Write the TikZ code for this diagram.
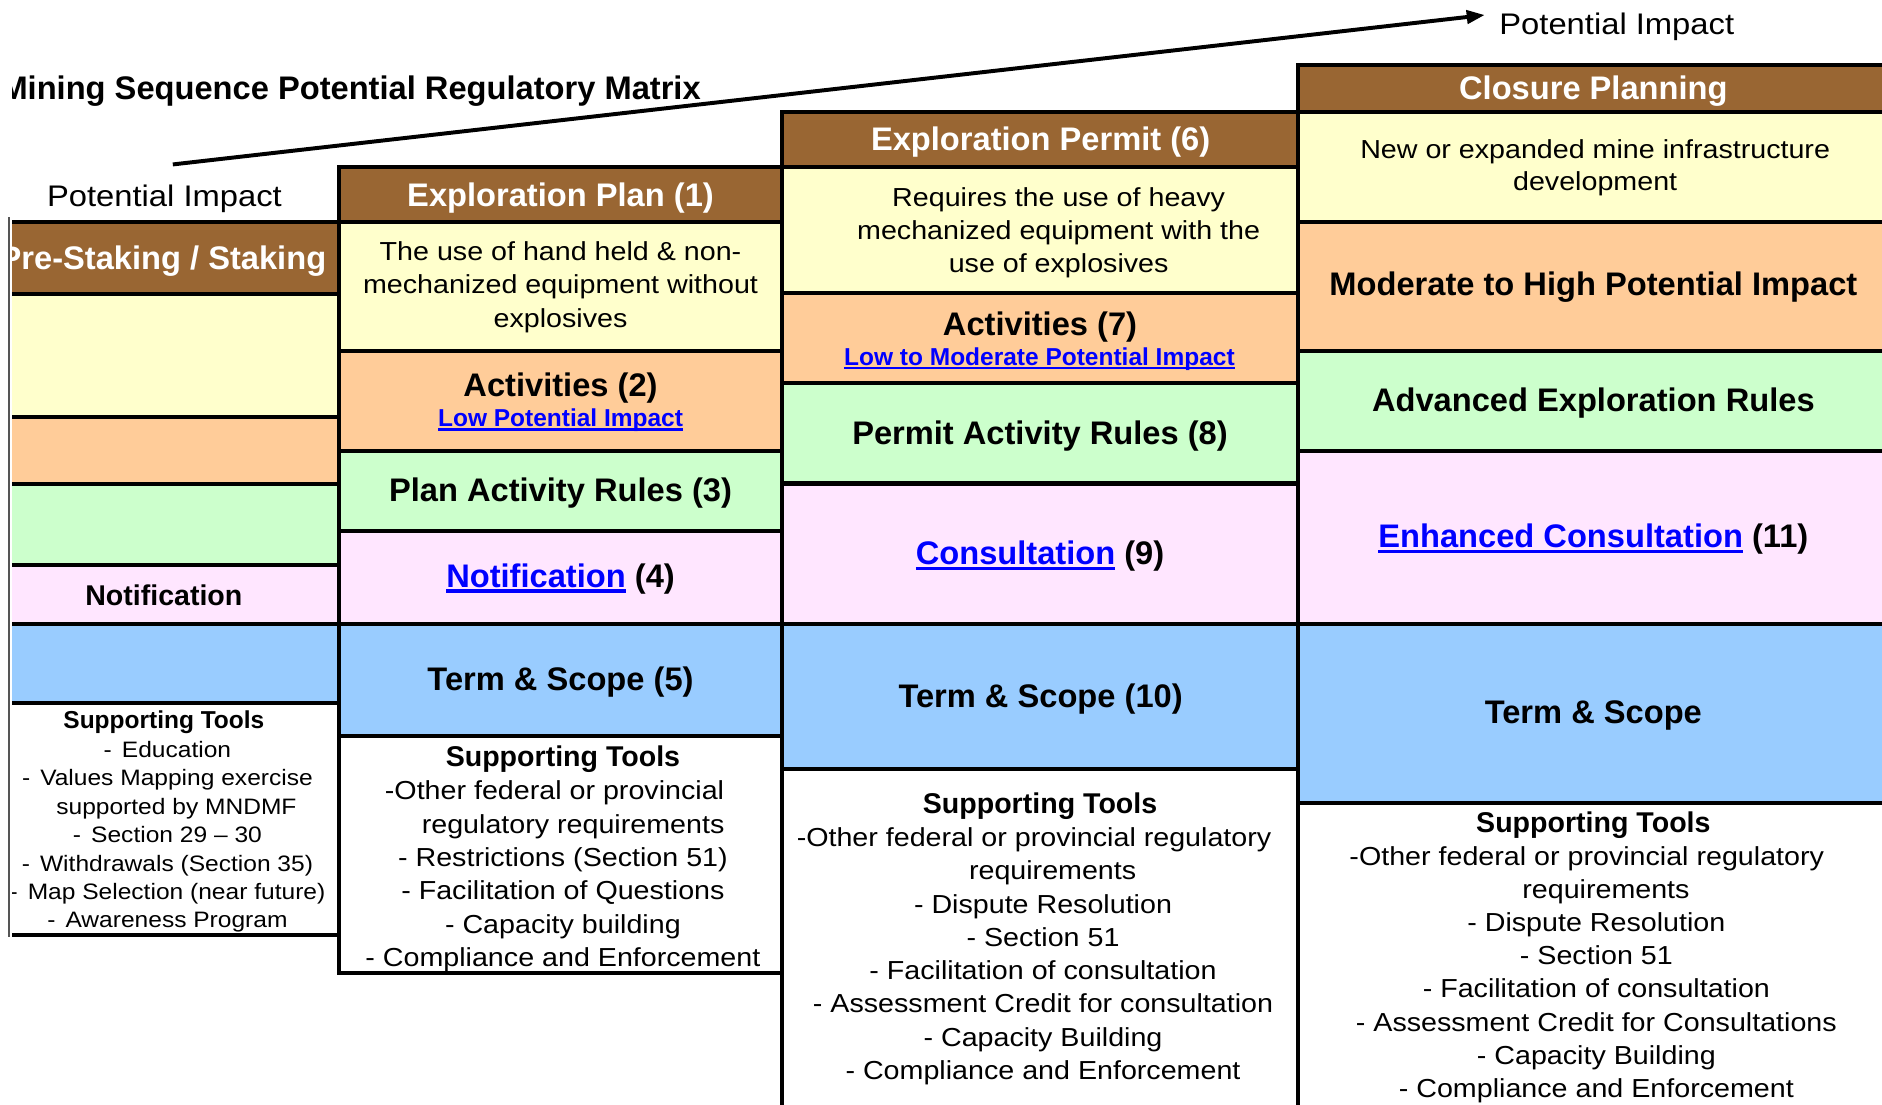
\documentclass[tikz,border=0pt]{standalone}
\usepackage{fontspec}
\setmainfont{Liberation Sans}
\newfontfamily\widef{Liberation Sans}[FakeStretch=1.1]
\usetikzlibrary{arrows.meta}
\definecolor{hdrbrown}{HTML}{996633}
\definecolor{cyellow}{HTML}{FFFFCC}
\definecolor{corange}{HTML}{FFCC99}
\definecolor{cgreen}{HTML}{CCFFCC}
\definecolor{cpink}{HTML}{FFE6FF}
\definecolor{cblue}{HTML}{99CCFF}
\definecolor{linkblue}{HTML}{0000FF}
\definecolor{thingray}{HTML}{555555}
\newsavebox\lnkbox
\newcommand\lnktxt[1]{\sbox\lnkbox{#1}\rlap{\rule[-0.17em]{\wd\lnkbox}{0.11em}}\usebox\lnkbox}
\newcommand\dgap{-\hspace{0.45em}}
\newcommand\trail[1]{\hspace*{#1}\mbox{}}
\newcommand\mkcell[6]{\node[cell, fill=#6, minimum width={(#4)-(#2)}, minimum height={(#5)-(#3)}] (#1) at ({((#2)+(#4))/2},{((#3)+(#5))/2}) {};}
\tikzset{
  cell/.style={draw=black, line width=3.5pt, rectangle, inner sep=0pt, outer sep=0pt},
  hdrtxt/.style={font=\fontsize{27.2}{32}\selectfont\bfseries, text=white, inner sep=0pt, anchor=base},
  lbltxt/.style={font=\fontsize{27.2}{32}\selectfont\bfseries, text=black, inner sep=0pt, anchor=base},
  lnksmall/.style={font=\fontsize{20.4}{24}\selectfont\bfseries, text=linkblue, inner sep=0pt, anchor=base},
  bodytxt/.style={font=\widef\fontsize{21.7}{28}\selectfont, align=center, inner sep=0pt, anchor=north},
  toolstxt/.style={font=\widef\fontsize{21.7}{27.7}\selectfont, align=center, inner sep=0pt, anchor=north},
  toolsone/.style={font=\widef\fontsize{18.6}{23.7}\selectfont, align=center, inner sep=0pt, anchor=north},
  imptxt/.style={font=\widef\fontsize{24.8}{30}\selectfont, inner sep=0pt, anchor=base},
  arrowline/.style={line width=3.3pt, -{Triangle[length=15pt,width=11pt]}},
  thinline/.style={draw=thingray, line width=1.5pt},
}
\begin{document}
\begin{tikzpicture}[x=1pt,y=-1pt]
\useasboundingbox (0,0) rectangle (1568,920);
\draw[thinline] (7.5,181) -- (7.5,781);
\begin{scope}
\clip (10,0) rectangle (1568,920);
% column 1
\mkcell{c1h}{-20}{185}{282.5}{245}{hdrbrown}
\mkcell{c1y}{-20}{245}{282.5}{347.5}{cyellow}
\mkcell{c1o}{-20}{347.5}{282.5}{403.3}{corange}
\mkcell{c1g}{-20}{403.3}{282.5}{470.8}{cgreen}
\mkcell{c1p}{-20}{470.8}{282.5}{520}{cpink}
\mkcell{c1b}{-20}{520}{282.5}{585.8}{cblue}
\mkcell{c1t}{-20}{585.8}{282.5}{779}{white}
% column 2
\mkcell{c2h}{282.5}{139.3}{651.5}{185}{hdrbrown}
\mkcell{c2y}{282.5}{185}{651.5}{292.5}{cyellow}
\mkcell{c2o}{282.5}{292.5}{651.5}{376}{corange}
\mkcell{c2g}{282.5}{376}{651.5}{442.5}{cgreen}
\mkcell{c2p}{282.5}{442.5}{651.5}{520}{cpink}
\mkcell{c2b}{282.5}{520}{651.5}{613.3}{cblue}
\mkcell{c2t}{282.5}{613.3}{651.5}{810.8}{white}
% column 3
\mkcell{c3h}{651.5}{93.6}{1081.2}{139.3}{hdrbrown}
\mkcell{c3y}{651.5}{139.3}{1081.2}{244.4}{cyellow}
\mkcell{c3o}{651.5}{244.4}{1081.2}{319.4}{corange}
\mkcell{c3g}{651.5}{319.4}{1081.2}{402.8}{cgreen}
\mkcell{c3p}{651.5}{402.8}{1081.2}{520}{cpink}
\mkcell{c3b}{651.5}{520}{1081.2}{640.8}{cblue}
\mkcell{c3t}{651.5}{640.8}{1081.2}{960}{white}
% column 4
\mkcell{c4h}{1081.2}{54.2}{1600}{93}{hdrbrown}
\mkcell{c4y}{1081.2}{93}{1600}{184.7}{cyellow}
\mkcell{c4o}{1081.2}{184.7}{1600}{292.2}{corange}
\mkcell{c4g}{1081.2}{292.2}{1600}{375.6}{cgreen}
\mkcell{c4p}{1081.2}{375.6}{1600}{520}{cpink}
\mkcell{c4b}{1081.2}{520}{1600}{668.7}{cblue}
\mkcell{c4t}{1081.2}{668.7}{1600}{960}{white}
% title and arrow
\node[lbltxt, anchor=base east] (title) at (584,82.5) {Mining Sequence Potential Regulatory Matrix};
\coordinate (arrS) at (144,137);
\coordinate (arrE) at (1237,12.5);
\draw[arrowline] (arrS) -- (arrE);
\node[imptxt, anchor=base west] (piR) at (1249,28.6) {Potential Impact};
\node[imptxt] (piL) at (137,172) {Potential Impact};
% column 1 texts
\node[hdrtxt, anchor=base east] (t1h) at (272,224.5) {Pre-Staking / Staking};
\node[lbltxt, font=\fontsize{23.8}{28}\selectfont\bfseries] (t1p) at (136.5,504.5) {Notification};
\node[toolsone] (t1t) at (139.5,592.2) {{\rmfamily\bfseries\fontsize{20.4}{23.7}\selectfont Supporting Tools}\trail{6pt}\\
\dgap Education\\
\dgap Values Mapping exercise\\
\hspace*{15pt}supported by MNDMF\\
\dgap Section 29 – 30\\
\dgap Withdrawals (Section 35)\\
\dgap Map Selection (near future)\\
\dgap Awareness Program};
% column 2 texts
\node[hdrtxt] (t2h) at (467,171.7) {Exploration Plan (1)};
\node[bodytxt] (t2y) at (467,201) {The use of hand held \& non-\\mechanized equipment without\\explosives};
\node[lbltxt] (t2o) at (467,330.5) {Activities (2)};
\node[lnksmall] (t2l) at (467,355.3) {\lnktxt{Low Potential Impact}};
\node[lbltxt] (t2g) at (467,417.5) {Plan Activity Rules (3)};
\node[lbltxt] (t2p) at (467,489.5) {\textcolor{linkblue}{\lnktxt{Notification}} (4)};
\node[lbltxt] (t2b) at (467,575.5) {Term \& Scope (5)};
\node[toolstxt, font=\widef\fontsize{21.7}{27.8}\selectfont] (t2t) at (469,621) {{\rmfamily\bfseries\fontsize{23.8}{27.8}\selectfont Supporting Tools}\\
-Other federal or provincial\trail{14pt}\\
\hspace*{17pt}regulatory requirements\\
- Restrictions (Section 51)\\
- Facilitation of Questions\\
- Capacity building\\
- Compliance and Enforcement};
% column 3 texts
\node[hdrtxt] (t3h) at (867,125.5) {Exploration Permit (6)};
\node[bodytxt, font=\widef\fontsize{21.7}{27.5}\selectfont] (t3y) at (882,156) {Requires the use of heavy\\mechanized equipment with the\\use of explosives};
\node[lbltxt] (t3o) at (866.5,279.5) {Activities (7)};
\node[lnksmall] (t3l) at (866,304.3) {\lnktxt{Low to Moderate Potential Impact}};
\node[lbltxt] (t3g) at (866.5,370.5) {Permit Activity Rules (8)};
\node[lbltxt] (t3p) at (866.5,470.5) {\textcolor{linkblue}{\lnktxt{Consultation}} (9)};
\node[lbltxt] (t3b) at (867,589.5) {Term \& Scope (10)};
\node[toolstxt, font=\widef\fontsize{21.7}{27.75}\selectfont] (t3t) at (869,660) {{\rmfamily\bfseries\fontsize{23.8}{27.75}\selectfont Supporting Tools}\trail{5pt}\\
-Other federal or provincial regulatory\trail{15pt}\\
\hspace*{16pt}requirements\\
- Dispute Resolution\\
- Section 51\\
- Facilitation of consultation\\
- Assessment Credit for consultation\\
- Capacity Building\\
- Compliance and Enforcement};
% column 4 texts
\node[hdrtxt] (t4h) at (1327.5,82.5) {Closure Planning};
\node[bodytxt, font=\widef\fontsize{21.7}{27}\selectfont] (t4y) at (1329,116) {New or expanded mine infrastructure\\development};
\node[lbltxt] (t4o) at (1327.5,246.5) {Moderate to High Potential Impact};
\node[lbltxt] (t4g) at (1327.5,342.5) {Advanced Exploration Rules};
\node[lbltxt] (t4p) at (1327.5,456.5) {\textcolor{linkblue}{\lnktxt{Enhanced Consultation}} (11)};
\node[lbltxt] (t4b) at (1327.5,602.5) {Term \& Scope};
\node[toolstxt, font=\widef\fontsize{21.7}{27.6}\selectfont] (t4t) at (1330,676) {{\rmfamily\bfseries\fontsize{23.8}{27.6}\selectfont Supporting Tools}\trail{5pt}\\
-Other federal or provincial regulatory\trail{16pt}\\
\hspace*{16pt}requirements\\
- Dispute Resolution\\
- Section 51\\
- Facilitation of consultation\\
- Assessment Credit for Consultations\\
- Capacity Building\\
- Compliance and Enforcement};
\end{scope}
\end{tikzpicture}
\end{document}
